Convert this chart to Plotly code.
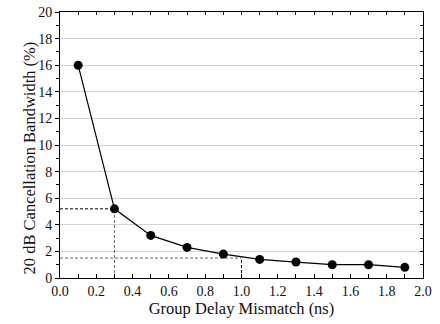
import plotly.graph_objects as go

delay_ns = [0.1, 0.3, 0.5, 0.7, 0.9, 1.1, 1.3, 1.5, 1.7, 1.9]
bandwidth_pct = [16.0, 5.2, 3.2, 2.3, 1.8, 1.4, 1.2, 1.0, 1.0, 0.8]

ref1_x, ref1_y = 0.3, 5.2
ref2_x, ref2_y = 1.0, 1.5

x_title = "Group Delay Mismatch (ns)"
y_title = "20 dB Cancellation Bandwidth (%)"

fig = go.Figure()

dash = "3px,2px"
fig.add_trace(go.Scatter(x=[0, ref1_x], y=[ref1_y, ref1_y], mode="lines",
                         line=dict(color="black", width=1, dash=dash), showlegend=False, hoverinfo="skip"))
fig.add_trace(go.Scatter(x=[ref1_x, ref1_x], y=[0, ref1_y], mode="lines",
                         line=dict(color="#666666", width=1, dash=dash), showlegend=False, hoverinfo="skip"))
fig.add_trace(go.Scatter(x=[0, ref2_x], y=[ref2_y, ref2_y], mode="lines",
                         line=dict(color="#666666", width=1, dash=dash), showlegend=False, hoverinfo="skip"))
fig.add_trace(go.Scatter(x=[ref2_x, ref2_x], y=[0, ref2_y], mode="lines",
                         line=dict(color="black", width=1, dash=dash), showlegend=False, hoverinfo="skip"))

fig.add_trace(go.Scatter(x=delay_ns, y=bandwidth_pct, mode="lines+markers",
                         line=dict(color="black", width=1.2),
                         marker=dict(color="black", size=9), showlegend=False))

# empty trace to anchor the mirrored axes
fig.add_trace(go.Scatter(x=[], y=[], xaxis="x2", yaxis="y2", showlegend=False, hoverinfo="skip"))

tick_font = dict(family="Liberation Serif, Times New Roman, serif", size=14, color="#111111")
title_font = dict(family="Liberation Serif, Times New Roman, serif", size=16.5, color="#111111")

fig.update_layout(
    width=440, height=324, margin=dict(l=60, r=17, t=5, b=46),
    plot_bgcolor="white", paper_bgcolor="white",
    xaxis=dict(range=[0, 2.0], dtick=0.2, tick0=0, tickformat=".1f",
               showgrid=False, zeroline=False,
               showline=True, linecolor="black", linewidth=1,
               ticks="inside", ticklen=4, tickcolor="black",
               minor=dict(dtick=0.1, ticks="inside", ticklen=4, tickcolor="black"),
               tickfont=tick_font, ticklabeloverflow="allow",
               title=dict(text=x_title, font=title_font, standoff=3)),
    yaxis=dict(range=[0, 20], dtick=2, tick0=0,
               showgrid=True, gridcolor="#d4d4d4", gridwidth=1, zeroline=False,
               showline=True, linecolor="black", linewidth=1,
               ticks="outside", ticklen=4, tickcolor="black",
               minor=dict(dtick=1, ticks="outside", ticklen=3, tickcolor="black"),
               tickfont=tick_font, ticklabeloverflow="allow"),
    xaxis2=dict(range=[0, 2.0], overlaying="x", side="top", anchor="y",
                showgrid=False, zeroline=False, showticklabels=False,
                showline=True, linecolor="black", linewidth=1,
                ticks="inside", ticklen=3, tickcolor="black", dtick=0.1, tick0=0),
    yaxis2=dict(range=[0, 20], overlaying="y", side="right", anchor="x",
                showgrid=False, zeroline=False, showticklabels=False,
                showline=True, linecolor="black", linewidth=1,
                ticks="inside", ticklen=3, tickcolor="black", dtick=1, tick0=0),
    annotations=[dict(text=y_title, xref="paper", yref="paper", x=-0.085, y=0.45,
                      xanchor="center", yanchor="middle", textangle=-90, showarrow=False,
                      font=title_font)],
)

fig.write_html("out.html")
